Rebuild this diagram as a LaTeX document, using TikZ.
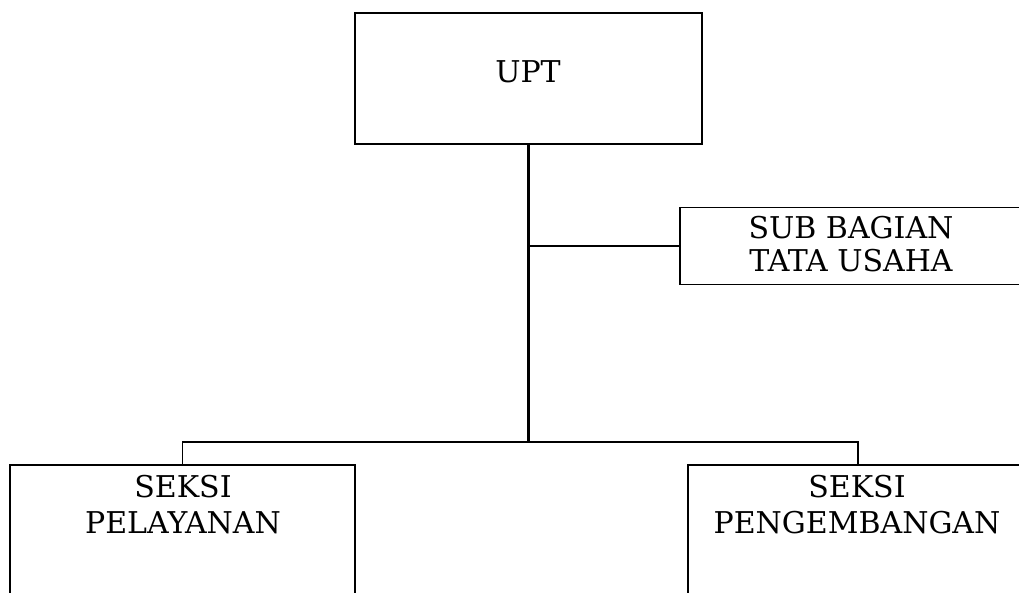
\documentclass[tikz,border=0pt]{standalone}
\usepackage{fontspec}
\setmainfont{DejaVu Serif}
\begin{document}
\begin{tikzpicture}[x=1pt,y=-1pt,
  box/.style={draw, rectangle, line width=1.8pt, inner sep=0pt},
  lbl/.style={font=\fontsize{30}{34}\selectfont, align=center, inner sep=0pt},
  link/.style={line width=1.8pt},
  trunk/.style={line width=3pt}]
\clip (0,0) rectangle (1019,593);

% boxes (the right-hand and bottom boxes run past the page edge)
\node[box, minimum width=347pt, minimum height=131pt] (upt) at (528.5,78.5) {};
\node[box, minimum width=340pt, minimum height=77pt]  (sub) at (850,246) {};
\node[box, minimum width=345pt, minimum height=155pt] (pel) at (182.5,542.5) {};
\node[box, minimum width=340pt, minimum height=155pt] (peng) at (858,542.5) {};

% texts
\node[lbl] (upt-t) at (528,72) {UPT};
\node[lbl, font=\fontsize{30}{33}\selectfont] (sub-t) at (851,244) {SUB BAGIAN\\TATA USAHA};
\node[lbl, font=\fontsize{30}{36}\selectfont] (pel-t) at (183,505) {SEKSI\\PELAYANAN};
\node[lbl, font=\fontsize{30}{36}\selectfont] (peng-t) at (857,505) {SEKSI\\PENGEMBANGAN};

% connectors
\coordinate (j) at (528.5,442);
\draw[trunk] (upt.south) -- (j);
\draw[link] (upt.south |- sub.west) -- (sub.west);
\draw[link] (pel.north) |- (j) -| (peng.north);
\end{tikzpicture}
\end{document}
